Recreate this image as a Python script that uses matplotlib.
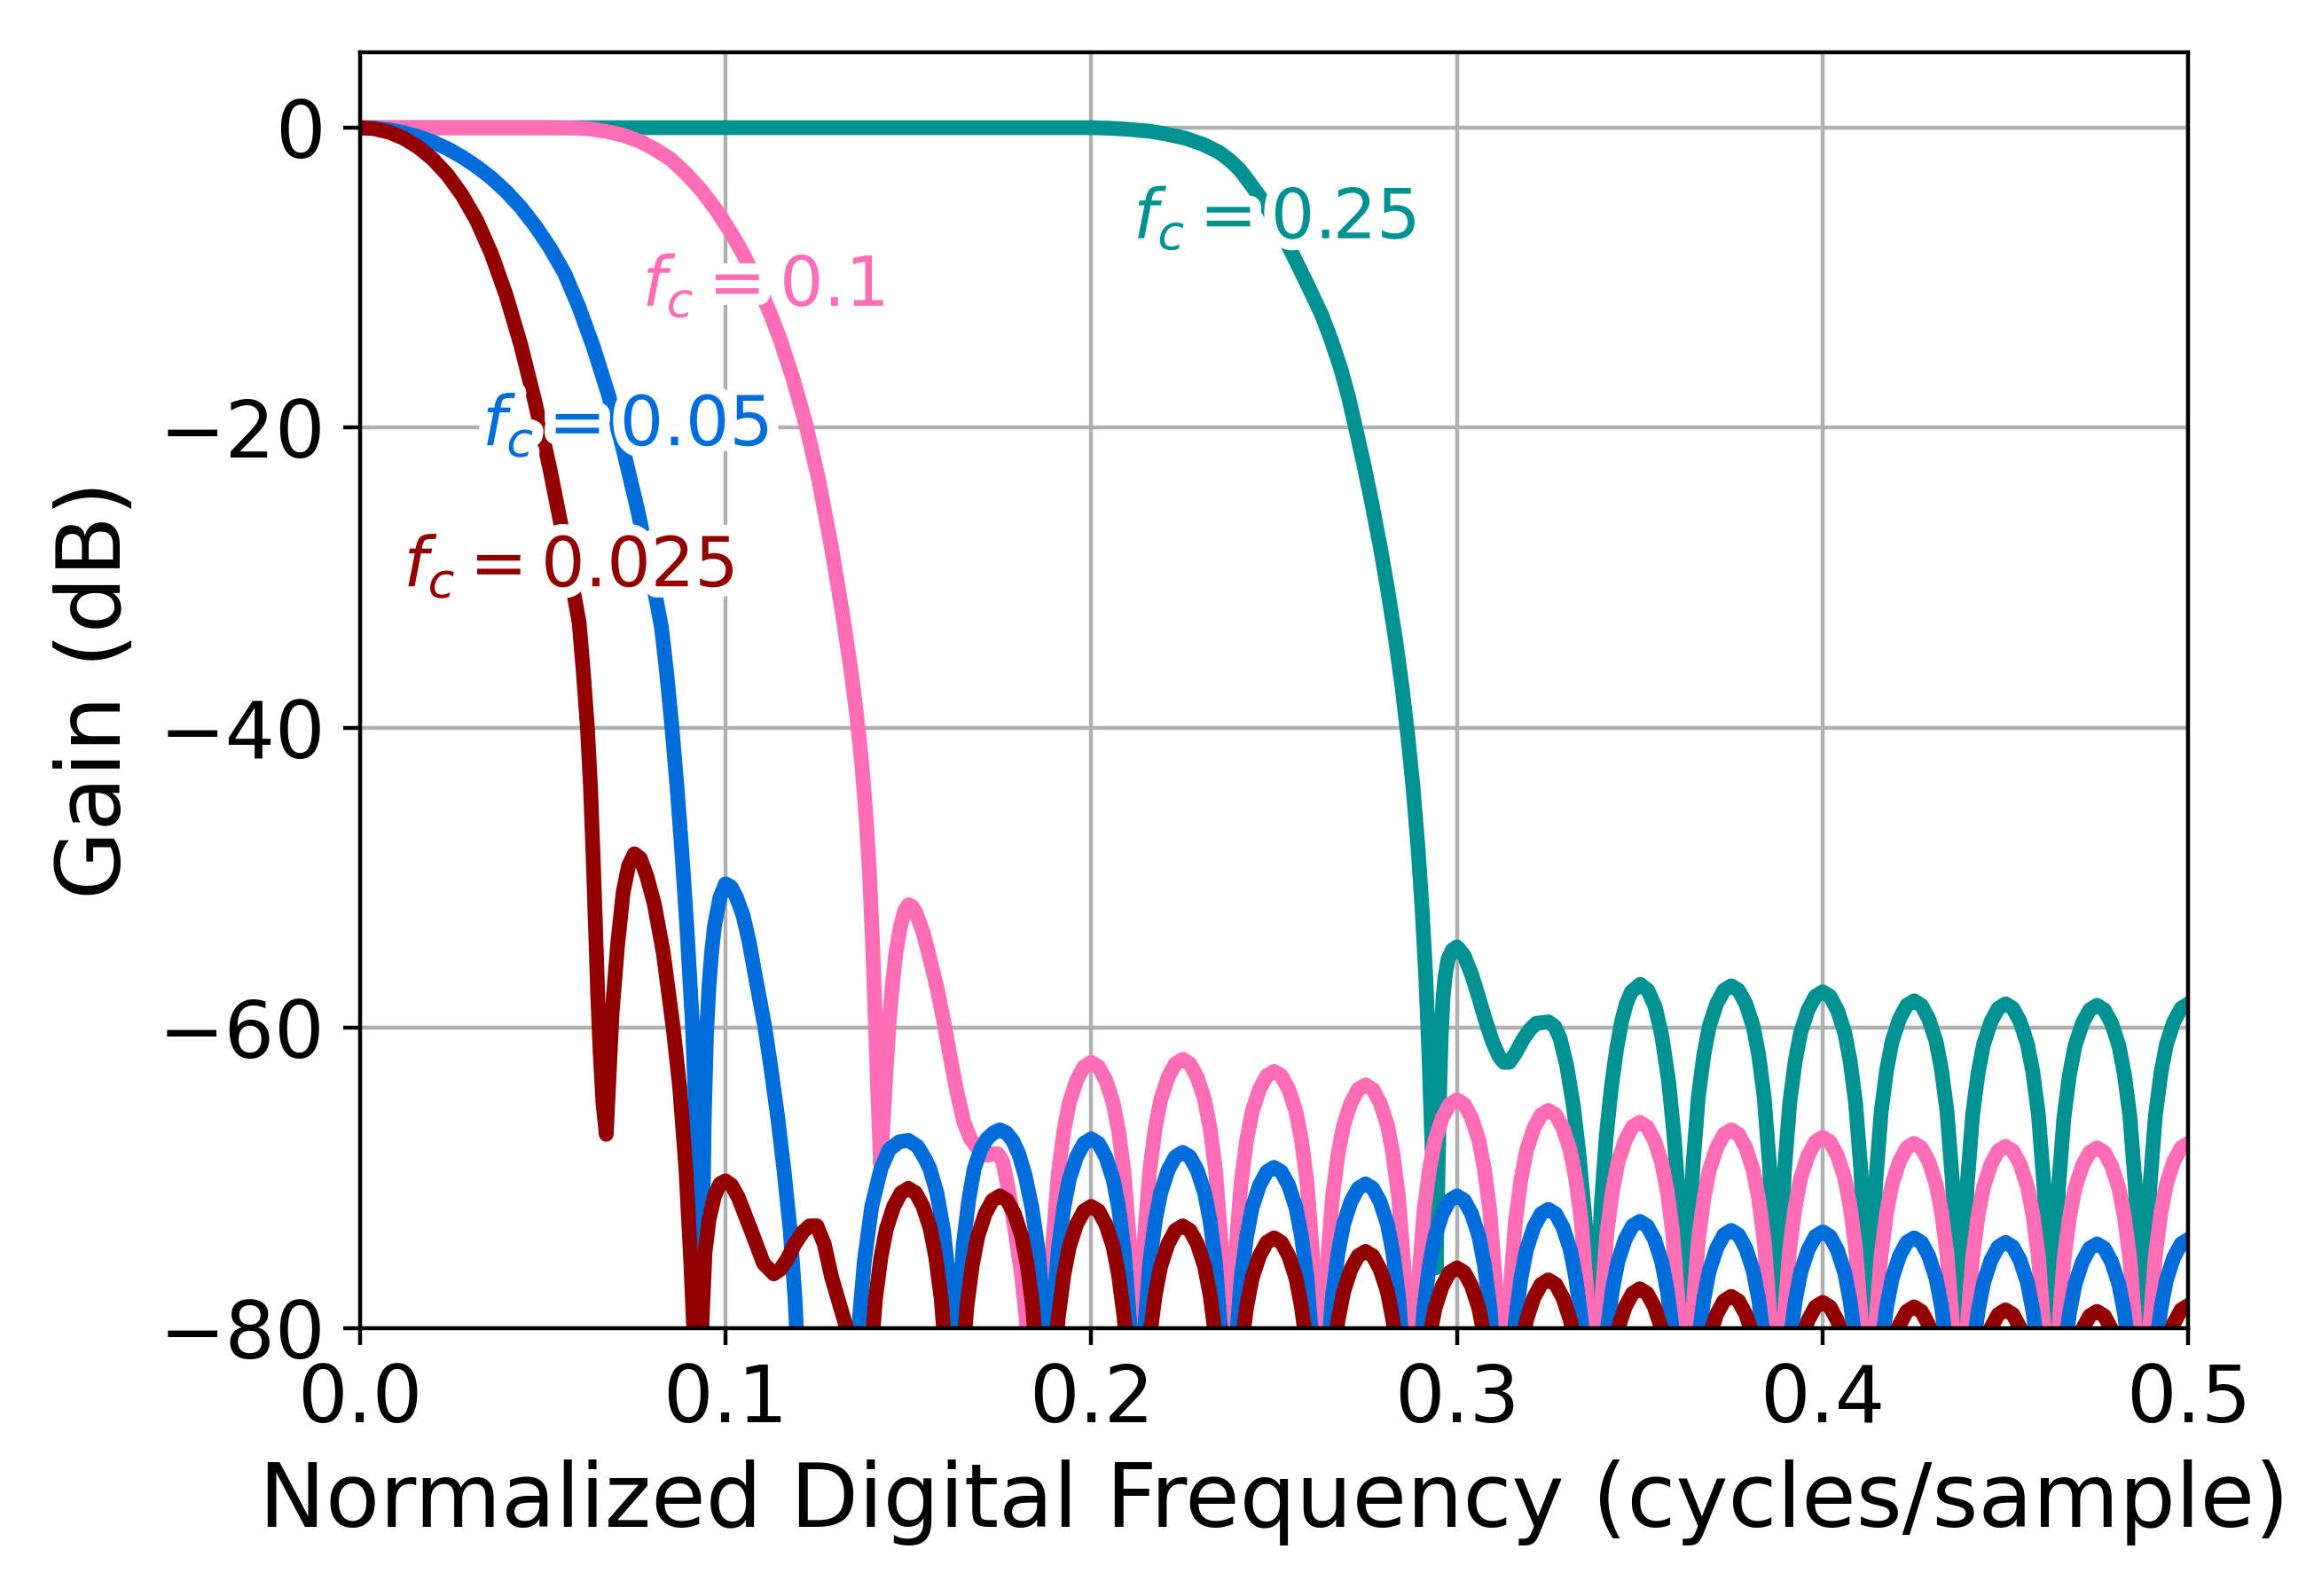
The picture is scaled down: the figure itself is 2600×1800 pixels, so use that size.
import matplotlib.pyplot as plt
import matplotlib.patheffects as pe

# ---- values (gain in dB vs cycles/sample) ----

# frequency points of the stopband side lobes, shared by all curves (0.15 ... 0.5)
stop_f = [
    0.1385, 0.1395, 0.141, 0.1425, 0.144, 0.146, 0.148, 0.15, 0.152, 0.154, 0.156, 0.1575, 0.159, 0.1605, 0.1615, 0.1625,
    0.1635, 0.1645, 0.166, 0.1675, 0.169, 0.171, 0.173, 0.175, 0.177, 0.179, 0.181, 0.1825, 0.184, 0.1855, 0.1865, 0.1875,
    0.1885, 0.1895, 0.191, 0.1925, 0.194, 0.196, 0.198, 0.2, 0.202, 0.204, 0.206, 0.2075, 0.209, 0.2105, 0.2115, 0.2125,
    0.2135, 0.2145, 0.216, 0.2175, 0.219, 0.221, 0.223, 0.225, 0.227, 0.229, 0.231, 0.2325, 0.234, 0.2355, 0.2365, 0.2375,
    0.2385, 0.2395, 0.241, 0.2425, 0.244, 0.246, 0.248, 0.25, 0.252, 0.254, 0.256, 0.2575, 0.259, 0.2605, 0.2615, 0.2625,
    0.2635, 0.2645, 0.266, 0.2675, 0.269, 0.271, 0.273, 0.275, 0.277, 0.279, 0.281, 0.2825, 0.284, 0.2855, 0.2865, 0.2875,
    0.2885, 0.2895, 0.291, 0.2925, 0.294, 0.296, 0.298, 0.3, 0.302, 0.304, 0.306, 0.3075, 0.309, 0.3105, 0.3115, 0.3125,
    0.3135, 0.3145, 0.316, 0.3175, 0.319, 0.321, 0.323, 0.325, 0.327, 0.329, 0.331, 0.3325, 0.334, 0.3355, 0.3365, 0.3375,
    0.3385, 0.3395, 0.341, 0.3425, 0.344, 0.346, 0.348, 0.35, 0.352, 0.354, 0.356, 0.3575, 0.359, 0.3605, 0.3615, 0.3625,
    0.3635, 0.3645, 0.366, 0.3675, 0.369, 0.371, 0.373, 0.375, 0.377, 0.379, 0.381, 0.3825, 0.384, 0.3855, 0.3865, 0.3875,
    0.3885, 0.3895, 0.391, 0.3925, 0.394, 0.396, 0.398, 0.4, 0.402, 0.404, 0.406, 0.4075, 0.409, 0.4105, 0.4115, 0.4125,
    0.4135, 0.4145, 0.416, 0.4175, 0.419, 0.421, 0.423, 0.425, 0.427, 0.429, 0.431, 0.4325, 0.434, 0.4355, 0.4365, 0.4375,
    0.4385, 0.4395, 0.441, 0.4425, 0.444, 0.446, 0.448, 0.45, 0.452, 0.454, 0.456, 0.4575, 0.459, 0.4605, 0.4615, 0.4625,
    0.4635, 0.4645, 0.466, 0.4675, 0.469, 0.471, 0.473, 0.475, 0.477, 0.479, 0.481, 0.4825, 0.484, 0.4855, 0.4865, 0.4875,
    0.4885, 0.4895, 0.491, 0.4925, 0.494, 0.496, 0.498, 0.5,
]

# fc = 0.025
red_main_f = [
    0.0, 0.004, 0.008, 0.012, 0.016, 0.02, 0.024, 0.028, 0.032, 0.036,
    0.04, 0.044, 0.048, 0.052, 0.056, 0.06, 0.0612, 0.0623, 0.0631, 0.0638,
    0.0645, 0.0651, 0.0657, 0.0665, 0.0674, 0.0682, 0.069, 0.0705, 0.072, 0.0735,
    0.0751, 0.0767, 0.0785, 0.0805, 0.083, 0.0857, 0.0875, 0.0892, 0.0905, 0.0913,
    0.0925, 0.0935, 0.0944, 0.0955, 0.097, 0.0985, 0.1, 0.1017, 0.1035, 0.107,
    0.1104, 0.1132, 0.115, 0.1169, 0.119, 0.1212, 0.123, 0.125, 0.127, 0.129,
    0.1331, 0.1365]
red_main_db = [
    0.0, -0.07, -0.3, -0.7, -1.3, -2.1, -3.15, -4.5, -6.2, -8.4,
    -11.15, -14.45, -18.35, -22.75, -27.65, -33.0, -36.5, -40.2, -44.0, -48.5,
    -53.5, -58.0, -61.5, -65.0, -67.1, -63.0, -59.0, -54.5, -51.0, -49.2,
    -48.4, -48.7, -49.9, -51.7, -55.0, -60.0, -64.0, -69.5, -75.5, -80.0,
    -95.0, -80.0, -75.0, -72.8, -71.2, -70.4, -70.2, -70.5, -71.3, -73.5,
    -75.7, -76.4, -76.1, -75.4, -74.4, -73.6, -73.2, -73.2, -74.4, -76.6,
    -80.0, -95.0]
red_stop_db = [
    -88.7, -82.8, -78.1, -75.3, -73.4, -71.9, -71.0, -70.7, -71.0, -71.9, -73.4, -75.3, -78.1, -82.8, -88.7, -100,
    -89.2, -83.3, -78.6, -75.8, -73.9, -72.4, -71.5, -71.2, -71.5, -72.4, -73.9, -75.8, -78.6, -83.3, -89.2, -100,
    -89.9, -84.0, -79.3, -76.5, -74.6, -73.1, -72.2, -71.9, -72.2, -73.1, -74.6, -76.5, -79.3, -84.0, -89.9, -100,
    -91.2, -85.3, -80.6, -77.8, -75.9, -74.4, -73.5, -73.2, -73.5, -74.4, -75.9, -77.8, -80.6, -85.3, -91.2, -100,
    -92.0, -86.1, -81.4, -78.6, -76.7, -75.2, -74.3, -74.0, -74.3, -75.2, -76.7, -78.6, -81.4, -86.1, -92.0, -100,
    -92.9, -87.0, -82.3, -79.5, -77.6, -76.1, -75.2, -74.9, -75.2, -76.1, -77.6, -79.5, -82.3, -87.0, -92.9, -100,
    -94.0, -88.1, -83.4, -80.6, -78.7, -77.2, -76.3, -76.0, -76.3, -77.2, -78.7, -80.6, -83.4, -88.1, -94.0, -100,
    -94.8, -88.9, -84.2, -81.4, -79.5, -78.0, -77.1, -76.8, -77.1, -78.0, -79.5, -81.4, -84.2, -88.9, -94.8, -100,
    -95.4, -89.5, -84.8, -82.0, -80.1, -78.6, -77.7, -77.4, -77.7, -78.6, -80.1, -82.0, -84.8, -89.5, -95.4, -100,
    -95.9, -90.0, -85.3, -82.5, -80.6, -79.1, -78.2, -77.9, -78.2, -79.1, -80.6, -82.5, -85.3, -90.0, -95.9, -100,
    -96.3, -90.4, -85.7, -82.9, -81.0, -79.5, -78.6, -78.3, -78.6, -79.5, -81.0, -82.9, -85.7, -90.4, -96.3, -100,
    -96.6, -90.7, -86.0, -83.2, -81.3, -79.8, -78.9, -78.6, -78.9, -79.8, -81.3, -83.2, -86.0, -90.7, -96.6, -100,
    -96.8, -90.9, -86.2, -83.4, -81.5, -80.0, -79.1, -78.8, -79.1, -80.0, -81.5, -83.4, -86.2, -90.9, -96.8, -100,
    -96.9, -91.0, -86.3, -83.5, -81.6, -80.1, -79.2, -78.9, -79.2, -80.1, -81.6, -83.5, -86.3, -91.0, -96.9, -100,
    -96.5, -90.6, -85.9, -83.1, -81.2, -79.7, -78.8, -78.5,
]

# fc = 0.05
blue_main_f = [
    0.0, 0.004, 0.008, 0.012, 0.016, 0.02, 0.024, 0.028, 0.032, 0.036,
    0.04, 0.044, 0.048, 0.052, 0.056, 0.06, 0.064, 0.068, 0.072, 0.076,
    0.08, 0.0825, 0.0839, 0.0853, 0.0867, 0.088, 0.0895, 0.0909, 0.0918, 0.0926,
    0.0932, 0.0937, 0.0942, 0.0948, 0.0955, 0.0962, 0.097, 0.0985, 0.1, 0.1015,
    0.103, 0.1048, 0.1065, 0.1082, 0.1095, 0.1108, 0.1125, 0.1143, 0.116, 0.1177,
    0.119, 0.1198, 0.1205, 0.127, 0.1345,
    0.1364, 0.138, 0.14, 0.1425, 0.1448, 0.1475, 0.15, 0.1525, 0.1545, 0.1559,
    0.1578, 0.1596, 0.1612, 0.1624, 0.163,
    0.1636, 0.165, 0.1665, 0.168, 0.1698, 0.1715, 0.1733, 0.175, 0.1768, 0.1785,
    0.1802, 0.1819, 0.1838, 0.1856, 0.1866, 0.1872, 0.1878]
blue_main_db = [
    0.0, -0.04, -0.15, -0.33, -0.6, -0.95, -1.4, -1.95, -2.6, -3.35,
    -4.25, -5.3, -6.55, -8.0, -9.7, -12.0, -14.7, -17.8, -21.4, -25.5,
    -30.1, -33.3, -36.3, -39.8, -43.8, -48.0, -53.5, -59.5, -65.0, -73.0,
    -90.0, -75.0, -66.0, -60.5, -57.2, -55.0, -53.2, -51.3, -50.4, -50.6,
    -51.3, -52.5, -54.3, -56.6, -58.3, -60.0, -62.8, -66.0, -69.5, -73.5,
    -78.0, -82.0, -95.0, -84.0, -95.0,
    -80.0, -75.5, -71.9, -69.4, -68.1, -67.6, -67.5, -67.9, -68.7, -69.4,
    -71.0, -73.5, -77.0, -81.0, -95.0,
    -80.0, -74.5, -71.5, -69.4, -68.1, -67.4, -67.0, -66.8, -67.0, -67.5,
    -68.4, -69.8, -72.0, -75.0, -78.0, -81.0, -95.0]
blue_stop_db = [
    -85.4, -79.5, -74.8, -72.0, -70.1, -68.6, -67.7, -67.4, -67.7, -68.6, -70.1, -72.0, -74.8, -79.5, -85.4, -100,
    -86.3, -80.4, -75.7, -72.9, -71.0, -69.5, -68.6, -68.3, -68.6, -69.5, -71.0, -72.9, -75.7, -80.4, -86.3, -100,
    -87.3, -81.4, -76.7, -73.9, -72.0, -70.5, -69.6, -69.3, -69.6, -70.5, -72.0, -73.9, -76.7, -81.4, -87.3, -100,
    -88.4, -82.5, -77.8, -75.0, -73.1, -71.6, -70.7, -70.4, -70.7, -71.6, -73.1, -75.0, -77.8, -82.5, -88.4, -100,
    -89.2, -83.3, -78.6, -75.8, -73.9, -72.4, -71.5, -71.2, -71.5, -72.4, -73.9, -75.8, -78.6, -83.3, -89.2, -100,
    -90.1, -84.2, -79.5, -76.7, -74.8, -73.3, -72.4, -72.1, -72.4, -73.3, -74.8, -76.7, -79.5, -84.2, -90.1, -100,
    -90.9, -85.0, -80.3, -77.5, -75.6, -74.1, -73.2, -72.9, -73.2, -74.1, -75.6, -77.5, -80.3, -85.0, -90.9, -100,
    -91.5, -85.6, -80.9, -78.1, -76.2, -74.7, -73.8, -73.5, -73.8, -74.7, -76.2, -78.1, -80.9, -85.6, -91.5, -100,
    -91.6, -85.7, -81.0, -78.2, -76.3, -74.8, -73.9, -73.6, -73.9, -74.8, -76.3, -78.2, -81.0, -85.7, -91.6, -100,
    -92.0, -86.1, -81.4, -78.6, -76.7, -75.2, -74.3, -74.0, -74.3, -75.2, -76.7, -78.6, -81.4, -86.1, -92.0, -100,
    -92.3, -86.4, -81.7, -78.9, -77.0, -75.5, -74.6, -74.3, -74.6, -75.5, -77.0, -78.9, -81.7, -86.4, -92.3, -100,
    -92.4, -86.5, -81.8, -79.0, -77.1, -75.6, -74.7, -74.4, -74.7, -75.6, -77.1, -79.0, -81.8, -86.5, -92.4, -100,
    -92.1, -86.2, -81.5, -78.7, -76.8, -75.3, -74.4, -74.1,
]

# fc = 0.1
pink_main_f = [
    0.0, 0.05, 0.058, 0.063, 0.0675, 0.072, 0.0765, 0.0805, 0.085, 0.089,
    0.0935, 0.0978, 0.1015, 0.1048, 0.1075, 0.11, 0.1125, 0.115, 0.1185, 0.122,
    0.1255, 0.129, 0.132, 0.1342, 0.1358, 0.1372, 0.1384, 0.1394, 0.1402, 0.1409,
    0.1416, 0.1424, 0.1432, 0.144, 0.1448, 0.1457, 0.1466, 0.1478, 0.149, 0.15,
    0.151, 0.152, 0.154, 0.1558, 0.1578, 0.1597, 0.1615, 0.1634, 0.1652, 0.167,
    0.1689, 0.1705, 0.1717, 0.173, 0.1745, 0.1758, 0.177, 0.1782, 0.1796, 0.181,
    0.1822, 0.1835, 0.1865]
pink_main_db = [
    0.0, 0.0, -0.02, -0.08, -0.25, -0.5, -0.9, -1.4, -2.1, -3.0,
    -4.2, -5.6, -7.0, -8.4, -9.75, -11.1, -12.55, -14.15, -16.75, -19.8,
    -23.5, -28.0, -32.4, -36.0, -39.0, -42.2, -45.8, -49.8, -54.3, -59.0,
    -64.0, -69.1, -66.0, -62.5, -59.5, -57.0, -55.0, -53.3, -52.2, -51.8,
    -51.9, -52.3, -53.6, -55.3, -57.3, -59.6, -62.0, -64.4, -66.3, -67.4,
    -68.0, -68.4, -68.5, -68.4, -68.4, -68.9, -70.3, -72.0, -74.2, -76.6,
    -79.3, -84.0, -100.0]
pink_stop_db = [
    -80.3, -74.4, -69.7, -66.9, -65.0, -63.5, -62.6, -62.3, -62.6, -63.5, -65.0, -66.9, -69.7, -74.4, -80.3, -100,
    -80.1, -74.2, -69.5, -66.7, -64.8, -63.3, -62.4, -62.1, -62.4, -63.3, -64.8, -66.7, -69.5, -74.2, -80.1, -100,
    -80.9, -75.0, -70.3, -67.5, -65.6, -64.1, -63.2, -62.9, -63.2, -64.1, -65.6, -67.5, -70.3, -75.0, -80.9, -100,
    -81.8, -75.9, -71.2, -68.4, -66.5, -65.0, -64.1, -63.8, -64.1, -65.0, -66.5, -68.4, -71.2, -75.9, -81.8, -100,
    -82.8, -76.9, -72.2, -69.4, -67.5, -66.0, -65.1, -64.8, -65.1, -66.0, -67.5, -69.4, -72.2, -76.9, -82.8, -100,
    -83.5, -77.6, -72.9, -70.1, -68.2, -66.7, -65.8, -65.5, -65.8, -66.7, -68.2, -70.1, -72.9, -77.6, -83.5, -100,
    -84.3, -78.4, -73.7, -70.9, -69.0, -67.5, -66.6, -66.3, -66.6, -67.5, -69.0, -70.9, -73.7, -78.4, -84.3, -100,
    -84.8, -78.9, -74.2, -71.4, -69.5, -68.0, -67.1, -66.8, -67.1, -68.0, -69.5, -71.4, -74.2, -78.9, -84.8, -100,
    -85.3, -79.4, -74.7, -71.9, -70.0, -68.5, -67.6, -67.3, -67.6, -68.5, -70.0, -71.9, -74.7, -79.4, -85.3, -100,
    -85.7, -79.8, -75.1, -72.3, -70.4, -68.9, -68.0, -67.7, -68.0, -68.9, -70.4, -72.3, -75.1, -79.8, -85.7, -100,
    -85.9, -80.0, -75.3, -72.5, -70.6, -69.1, -68.2, -67.9, -68.2, -69.1, -70.6, -72.5, -75.3, -80.0, -85.9, -100,
    -86.0, -80.1, -75.4, -72.6, -70.7, -69.2, -68.3, -68.0, -68.3, -69.2, -70.7, -72.6, -75.4, -80.1, -86.0, -100,
    -85.7, -79.8, -75.1, -72.3, -70.4, -68.9, -68.0, -67.7,
]

# fc = 0.25
teal_main_f = [
    0.0, 0.2, 0.205, 0.2097, 0.2164, 0.2205, 0.2257, 0.2305, 0.235, 0.2378,
    0.2406, 0.2425, 0.2443, 0.247, 0.25, 0.2527, 0.2554, 0.259, 0.2629, 0.2657,
    0.2684, 0.2703, 0.2721, 0.2745, 0.2768, 0.279, 0.2812, 0.2832, 0.285, 0.2866,
    0.288, 0.2893, 0.2905, 0.2915, 0.2923, 0.293, 0.2937, 0.2943, 0.2948, 0.2953,
    0.2957, 0.2962, 0.2968, 0.2976, 0.2988, 0.3, 0.302, 0.3041, 0.306, 0.3078,
    0.3097, 0.3115, 0.3128, 0.3143, 0.316, 0.318, 0.32, 0.3217, 0.325, 0.3267,
    0.3282, 0.33, 0.3319, 0.3334, 0.3347, 0.336, 0.337, 0.3375, 0.3385, 0.3394,
    0.3408, 0.3422, 0.3436, 0.345, 0.3463, 0.3477, 0.3501, 0.3522, 0.3542, 0.356,
    0.3579, 0.3594, 0.3607, 0.3617, 0.3625]
teal_main_db = [
    0.0, 0.0, -0.03, -0.1, -0.25, -0.42, -0.7, -1.1, -1.64, -2.15,
    -2.8, -3.4, -4.0, -4.9, -6.1, -7.3, -8.6, -10.4, -12.4, -14.2,
    -16.2, -17.9, -19.8, -22.4, -25.1, -27.9, -31.0, -34.1, -37.3, -40.6,
    -44.0, -47.8, -52.2, -56.7, -61.5, -66.5, -71.5, -76.0, -70.0, -64.1,
    -60.5, -58.0, -56.5, -55.4, -54.8, -54.6, -55.2, -56.5, -58.0, -59.5,
    -60.9, -61.9, -62.3, -62.3, -61.7, -60.8, -60.1, -59.7, -59.6, -59.9,
    -60.7, -62.5, -65.3, -68.5, -71.9, -75.5, -79.0, -95.0, -78.0, -72.0,
    -67.3, -64.0, -61.5, -59.6, -58.4, -57.6, -57.1, -57.5, -58.6, -60.5,
    -63.6, -67.3, -71.6, -76.0, -95.0]
teal_stop_db = [
    -75.2, -69.3, -64.6, -61.8, -59.9, -58.4, -57.5, -57.2, -57.5, -58.4, -59.9, -61.8, -64.6, -69.3, -75.2, -100,
    -75.6, -69.7, -65.0, -62.2, -60.3, -58.8, -57.9, -57.6, -57.9, -58.8, -60.3, -62.2, -65.0, -69.7, -75.6, -100,
    -76.2, -70.3, -65.6, -62.8, -60.9, -59.4, -58.5, -58.2, -58.5, -59.4, -60.9, -62.8, -65.6, -70.3, -76.2, -100,
    -76.4, -70.5, -65.8, -63.0, -61.1, -59.6, -58.7, -58.4, -58.7, -59.6, -61.1, -63.0, -65.8, -70.5, -76.4, -100,
    -76.5, -70.6, -65.9, -63.1, -61.2, -59.7, -58.8, -58.5, -58.8, -59.7, -61.2, -63.1, -65.9, -70.6, -76.5, -100,
    -76.4, -70.5, -65.8, -63.0, -61.1, -59.6, -58.7, -58.4,
]

cutoffs = ["0.25", "0.1", "0.05", "0.025"]
colors = ["#009292", "#ff6db6", "#006ddb", "#920000"]
label_x = [0.2502, 0.1104, 0.0727, 0.0572]
label_y = [-6.0, -10.5, -19.8, -29.2]

# drawn in this order: teal at the back, dark red in front
series = [
    (teal_main_f, teal_main_db, teal_stop_db),
    (pink_main_f, pink_main_db, pink_stop_db),
    (blue_main_f, blue_main_db, blue_stop_db),
    (red_main_f, red_main_db, red_stop_db),
]

fig = plt.figure(figsize=(6.5, 4.5), dpi=400)
ax = fig.add_axes([0.156, 0.168, 0.793, 0.799])

for (main_f, main_db, stop_db), col in zip(series, colors):
    assert len(main_f) == len(main_db)
    f = main_f + stop_f[len(stop_f) - len(stop_db):]
    db = main_db + stop_db
    ax.plot(f, db, color=col, lw=3.0)

for fc, col, lx, ly in zip(cutoffs, colors, label_x, label_y):
    ax.text(lx, ly, r"$f_c = %s$" % fc, color=col, fontsize=14,
            ha="center", va="center", zorder=5,
            path_effects=[pe.withStroke(linewidth=4.5, foreground="white")])

ax.set_xlim(0, 0.5)
ax.set_ylim(-80, 5)
ax.grid(True)
ax.tick_params(labelsize=16)
ax.set_xlabel("Normalized Digital Frequency (cycles/sample)", fontsize=18)
ax.set_ylabel("Gain (dB)", fontsize=18)

fig.savefig("out.png", dpi=400)
